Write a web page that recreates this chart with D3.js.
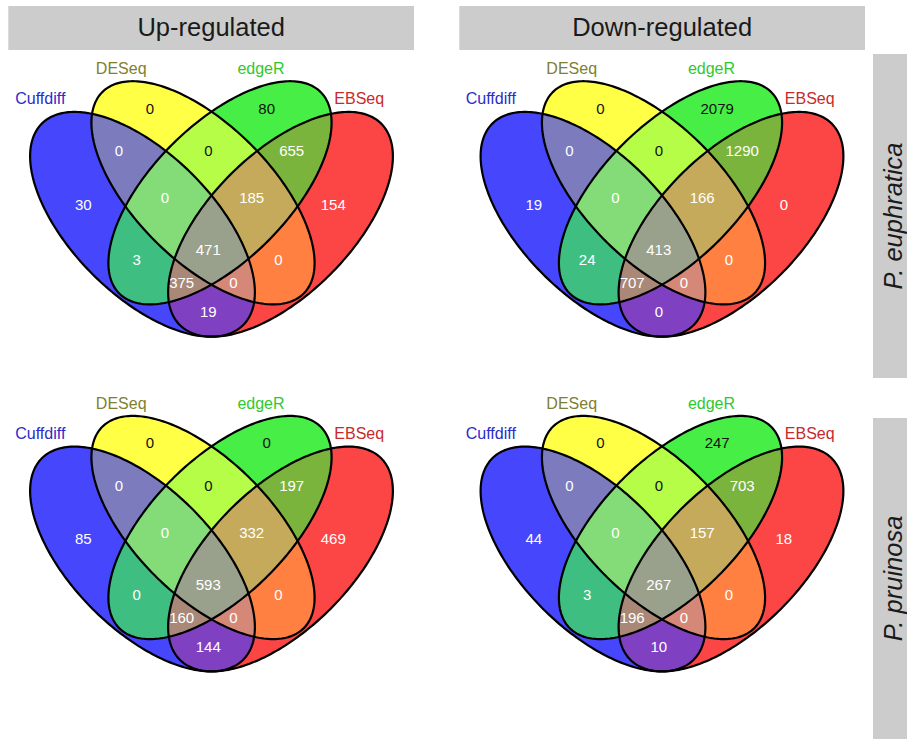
<!DOCTYPE html>
<html>
<head>
<meta charset="utf-8">
<script src="https://cdn.jsdelivr.net/npm/d3@7"></script>
<style>
  html, body { margin: 0; padding: 0; background: #ffffff; }
  svg { display: block; font-family: "Liberation Sans", Arial, Helvetica, sans-serif; }
</style>
</head>
<body>
<svg id="chart" width="907" height="739"></svg>
<script>
// Facet labels
const regulation = ["Up-regulated", "Down-regulated"];
const species = ["P. euphratica", "P. pruinosa"];

// The four DE tools compared in each diagram
const methods = ["Cuffdiff", "DESeq", "edgeR", "EBSeq"];

// Venn regions (A = Cuffdiff, B = DESeq, C = edgeR, D = EBSeq)
const regions = ["A", "B", "C", "D", "AB", "BC", "CD", "ABC", "BCD", "ABCD", "AC", "BD", "ACD", "ABD", "AD"];

// Gene counts per region, same order as `regions`
const upEuphratica   = [30, 0, 80, 154, 0, 0, 655, 0, 185, 471, 3, 0, 375, 0, 19];
const downEuphratica = [19, 0, 2079, 0, 0, 0, 1290, 0, 166, 413, 24, 0, 707, 0, 0];
const upPruinosa     = [85, 0, 0, 469, 0, 0, 197, 0, 332, 593, 0, 0, 160, 0, 144];
const downPruinosa   = [44, 0, 247, 18, 0, 0, 703, 0, 157, 267, 3, 0, 196, 0, 10];

const panels = [
  { row: 0, col: 0, counts: upEuphratica },
  { row: 0, col: 1, counts: downEuphratica },
  { row: 1, col: 0, counts: upPruinosa },
  { row: 1, col: 1, counts: downPruinosa }
];

// ---- layout (venn units: 1 unit = 100 px, origin at diagram centre) ----
const ellipses = {
  A: { cx: -0.69,  cy: 0.003,  a: 1.424, b: 0.706, rot:  45 },
  B: { cx: -0.085, cy: -0.312, a: 1.424, b: 0.68,  rot:  45 },
  C: { cx:  0.085, cy: -0.312, a: 1.424, b: 0.68,  rot: -45 },
  D: { cx:  0.69,  cy: 0.003,  a: 1.424, b: 0.706, rot: -45 }
};
const labelPos = {
  A: [-1.282, -0.197], B: [-0.615, -1.157], C: [0.552, -1.157], D: [1.218, -0.197],
  AB: [-0.925, -0.73], BC: [-0.032, -0.73], CD: [0.802, -0.73],
  ABC: [-0.465, -0.263], BCD: [0.402, -0.263], ABCD: [-0.032, 0.26],
  AC: [-0.748, 0.36], BD: [0.668, 0.36], ACD: [-0.298, 0.59], ABD: [0.218, 0.59],
  AD: [-0.032, 0.877]
};
const methodPos = [[-1.712, -1.257], [-0.903, -1.557], [0.495, -1.557], [1.477, -1.257]];

// ---- styles ----
const regionFill = {
  A: "#4646fc", B: "#ffff46", C: "#46ee46", D: "#fc4646",
  AB: "#7b7bbe", BC: "#b5fd46", CD: "#7ab43c",
  ABC: "#84dc78", BCD: "#c4aa5a", ABCD: "#99a08c",
  AC: "#3fbe82", BD: "#ff8040", ACD: "#a98878", ABD: "#d68878", AD: "#8040c2"
};
const darkText = new Set(["B", "C", "BC"]);
const methodColor = ["#2b2bcc", "#7f7f30", "#30c830", "#c82a2a"];

const svg = d3.select("#chart");
const defs = svg.append("defs");

const colX = [211.5, 662];
const rowY = [224, 558.7];

// facet strips
const stripX = [[8.3, 414], [459.3, 865]];
regulation.forEach((t, i) => {
  svg.append("rect").attr("x", stripX[i][0]).attr("y", 6)
    .attr("width", stripX[i][1] - stripX[i][0]).attr("height", 44)
    .attr("fill", "#cccccc");
  svg.append("text").attr("x", (stripX[i][0] + stripX[i][1]) / 2).attr("y", 35.5)
    .attr("text-anchor", "middle").attr("font-size", 25.5).attr("fill", "#1a1a1a")
    .text(t);
});
const stripY = [[54, 378], [418, 760]];
const stripTextY = [216, 578.5];
species.forEach((t, i) => {
  svg.append("rect").attr("x", 873).attr("y", stripY[i][0])
    .attr("width", 40).attr("height", stripY[i][1] - stripY[i][0])
    .attr("fill", "#cccccc");
  svg.append("text")
    .attr("transform", `translate(902,${stripTextY[i]}) rotate(-90)`)
    .attr("text-anchor", "middle").attr("font-size", 25.5).attr("font-style", "italic")
    .attr("fill", "#1a1a1a")
    .text(t);
});

const keys = ["A", "B", "C", "D"];

panels.forEach((p, pi) => {
  const cx = colX[p.col], cy = rowY[p.row];
  const vx = d3.scaleLinear().domain([-1, 1]).range([cx - 100, cx + 100]);
  const vy = d3.scaleLinear().domain([-1, 1]).range([cy - 100, cy + 100]);
  const line = d3.line().x(d => vx(d[0])).y(d => vy(d[1])).curve(d3.curveLinearClosed);

  const ellipsePath = e => {
    const r = e.rot * Math.PI / 180, n = 240, pts = [];
    for (let i = 0; i < n; i++) {
      const t = 2 * Math.PI * i / n;
      const x = e.a * Math.cos(t), y = e.b * Math.sin(t);
      pts.push([e.cx + x * Math.cos(r) - y * Math.sin(r), e.cy + x * Math.sin(r) + y * Math.cos(r)]);
    }
    return line(pts);
  };

  const paths = {};
  keys.forEach(k => {
    paths[k] = ellipsePath(ellipses[k]);
    defs.append("clipPath").attr("id", `clip-${pi}-${k}`)
      .append("path").attr("d", paths[k]);
  });

  const g = svg.append("g");
  // paint regions from single sets up to the four-way overlap
  const order = regions.slice().sort((a, b) => a.length - b.length);
  order.forEach(r => {
    const sets = r.split("");
    let parent = g;
    sets.slice(0, -1).forEach(s => {
      parent = parent.append("g").attr("clip-path", `url(#clip-${pi}-${s})`);
    });
    parent.append("path").attr("d", paths[sets[sets.length - 1]])
      .attr("fill", regionFill[r]);
  });

  keys.forEach(k => {
    g.append("path").attr("d", paths[k]).attr("fill", "none")
      .attr("stroke", "#000").attr("stroke-width", 2.2);
  });

  regions.forEach((r, i) => {
    g.append("text").attr("x", vx(labelPos[r][0])).attr("y", vy(labelPos[r][1]))
      .attr("dy", "0.36em").attr("text-anchor", "middle").attr("font-size", 15)
      .attr("fill", darkText.has(r) ? "#111111" : "#ffffff")
      .text(p.counts[i]);
  });

  methods.forEach((m, i) => {
    g.append("text").attr("x", vx(methodPos[i][0])).attr("y", vy(methodPos[i][1]))
      .attr("dy", "0.36em").attr("text-anchor", "middle").attr("font-size", 16)
      .attr("fill", methodColor[i])
      .text(m);
  });
});
</script>
</body>
</html>
